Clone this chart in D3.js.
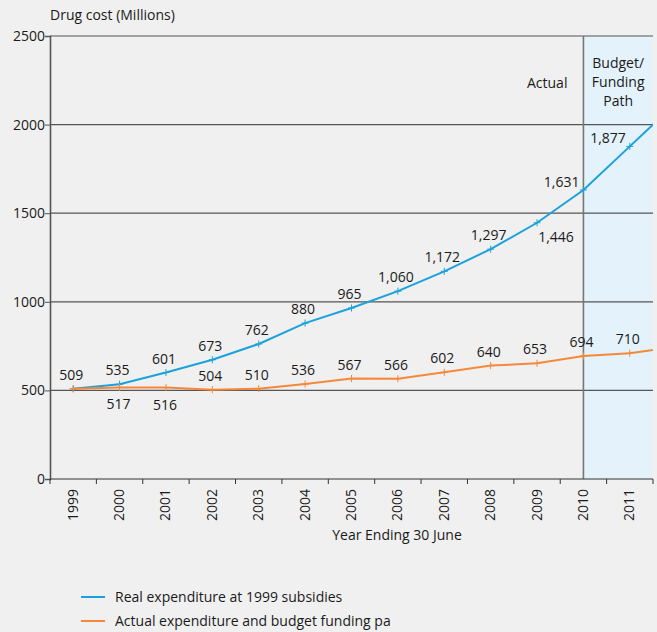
<!DOCTYPE html>
<html>
<head>
<meta charset="utf-8">
<script src="https://cdn.jsdelivr.net/npm/d3@7"></script>
<style>
  body { margin: 0; background: #f0f0f0; }
  text { font-family: "Open Sans", "Noto Sans", sans-serif; fill: #1a1a1a; }
</style>
</head>
<body>
<div id="chart"></div>
<script>
// years on the x axis
var years = ["1999", "2000", "2001", "2002", "2003", "2004", "2005", "2006", "2007", "2008", "2009", "2010", "2011"];
var realExpenditure = [509, 535, 601, 673, 762, 880, 965, 1060, 1172, 1297, 1446, 1631, 1877];
var actualBudget = [509, 517, 516, 504, 510, 536, 567, 566, 602, 640, 653, 694, 710];
// lines run off the right edge toward the next (unlabelled) year
var realNext = 2123;
var actualNext = 746;
var yTicks = [0, 500, 1000, 1500, 2000, 2500];

// where each label sits relative to its point
var realLabelPos = ["up", "up", "up", "up", "up", "up", "up", "up", "up", "up", "downright", "left", "left"];
var actualLabelPos = ["none", "down", "down", "up", "up", "up", "up", "up", "up", "up", "up", "up", "up"];

var svgWidth = 657;
var svgHeight = 632;
var margin = {top: 36, right: 4, bottom: 153, left: 50};
var width = svgWidth - margin.left - margin.right;
var height = svgHeight - margin.top - margin.bottom;

var fs = "14px";
var blue = "#1ba1dc";
var orange = "#f5883a";
var grid = "#555";

var svg = d3.select("#chart").append("svg")
    .attr("width", svgWidth)
    .attr("height", svgHeight)
    .style("background", "#f0f0f0");

var chart = svg.append("g")
    .attr("transform", "translate(" + margin.left + "," + margin.top + ")");

var x = d3.scaleBand().domain(years).range([0, width]);
var y = d3.scaleLinear().domain([0, 2500]).range([height, 0]);
var bw = x.bandwidth();
function cx(i) { return x(years[0]) + bw / 2 + i * bw; }

// shaded budget region from 2010 on
var splitX = cx(years.indexOf("2010"));
chart.append("rect")
    .attr("x", splitX)
    .attr("y", 0)
    .attr("width", width - splitX)
    .attr("height", height)
    .attr("fill", "#e3f2fb");

// gridlines
chart.selectAll(".grid")
    .data(yTicks.filter(function(d) { return d > 0; }))
    .enter()
    .append("line")
    .attr("x1", 0)
    .attr("x2", width)
    .attr("y1", function(d) { return y(d); })
    .attr("y2", function(d) { return y(d); })
    .attr("stroke", grid)
    .attr("stroke-width", 1.2);

chart.append("line")
    .attr("x1", splitX).attr("x2", splitX)
    .attr("y1", 0).attr("y2", height)
    .attr("stroke", "#777")
    .attr("stroke-width", 1.6);

// axes
var leftAxis = d3.axisLeft(y).tickValues(yTicks).tickSize(5).tickFormat(d3.format("d"));
var gy = chart.append("g").call(leftAxis);
gy.select(".domain").attr("stroke", "#555").attr("stroke-width", 1.6);
gy.selectAll(".tick line").attr("stroke", "#555");
gy.selectAll("text").style("font-size", fs).attr("x", -5).attr("fill", "#1a1a1a");

var bottom = chart.append("g").attr("transform", "translate(0," + height + ")");
bottom.append("line")
    .attr("x1", 0).attr("x2", width)
    .attr("stroke", "#333").attr("stroke-width", 1.2);
var tickXs = d3.range(years.length + 1).map(function(i) { return i * bw; });
bottom.selectAll(".xt")
    .data(tickXs)
    .enter()
    .append("line")
    .attr("x1", function(d) { return d; })
    .attr("x2", function(d) { return d; })
    .attr("y1", 0).attr("y2", 5)
    .attr("stroke", "#333");
bottom.selectAll(".xl")
    .data(years)
    .enter()
    .append("text")
    .attr("transform", function(d) { return "translate(" + (x(d) + bw / 2 + 4.5) + ",10) rotate(-90)"; })
    .attr("text-anchor", "end")
    .style("font-size", fs)
    .text(function(d) { return d; });

// titles
svg.append("text")
    .attr("x", 50).attr("y", 20)
    .style("font-size", fs)
    .text("Drug cost (Millions)");
svg.append("text")
    .attr("x", 397).attr("y", 540)
    .attr("text-anchor", "middle")
    .style("font-size", fs)
    .text("Year Ending 30 June");
chart.append("text")
    .attr("x", splitX - 16).attr("y", 52)
    .attr("text-anchor", "end")
    .style("font-size", fs)
    .text("Actual");
var bt = chart.append("text")
    .attr("text-anchor", "middle")
    .style("font-size", fs);
["Budget/", "Funding", "Path"].forEach(function(s, i) {
    bt.append("tspan")
        .attr("x", splitX + (width - splitX) / 2)
        .attr("y", 32 + i * 19)
        .text(s);
});

// lines
chart.append("clipPath").attr("id", "plotclip")
    .append("rect").attr("width", width).attr("height", height);

function drawSeries(values, next, color, positions) {
    var pts = values.map(function(v, i) { return [cx(i), y(v)]; });
    pts.push([cx(values.length), y(next)]);
    chart.append("path")
        .datum(pts)
        .attr("clip-path", "url(#plotclip)")
        .attr("fill", "none")
        .attr("stroke", color)
        .attr("stroke-width", 2)
        .attr("d", d3.line());

    var m = chart.append("g");
    values.forEach(function(v, i) {
        var px = cx(i), py = y(v);
        m.append("path")
            .attr("d", "M" + (px - 3.5) + "," + py + "H" + (px + 3.5) + "M" + px + "," + (py - 3.5) + "V" + (py + 3.5))
            .attr("stroke", color)
            .attr("stroke-width", 1);
        var pos = positions[i];
        if (pos === "none") return;
        var t = chart.append("text")
            .style("font-size", fs)
            .text(d3.format(v >= 1000 ? ",d" : "d")(v));
        if (pos === "up") {
            t.attr("x", px - 2).attr("y", py - 9).attr("text-anchor", "middle");
        } else if (pos === "down") {
            t.attr("x", px - 1).attr("y", py + 22).attr("text-anchor", "middle");
        } else if (pos === "downright") {
            t.attr("x", px + 19).attr("y", py + 19).attr("text-anchor", "middle");
        } else if (pos === "left") {
            t.attr("x", px - 4).attr("y", py - 3).attr("text-anchor", "end");
        }
    });
}

drawSeries(realExpenditure, realNext, blue, realLabelPos);
drawSeries(actualBudget, actualNext, orange, actualLabelPos);

// legend
var legend = svg.append("g");
var items = [
    {label: "Real expenditure at 1999 subsidies", color: blue},
    {label: "Actual expenditure and budget funding pa", color: orange}
];
items.forEach(function(d, i) {
    var ly = 597 + i * 24;
    legend.append("line")
        .attr("x1", 81).attr("x2", 105)
        .attr("y1", ly).attr("y2", ly)
        .attr("stroke", d.color)
        .attr("stroke-width", 2);
    legend.append("text")
        .attr("x", 115).attr("y", ly + 5)
        .style("font-size", fs)
        .text(d.label);
});
</script>
</body>
</html>
